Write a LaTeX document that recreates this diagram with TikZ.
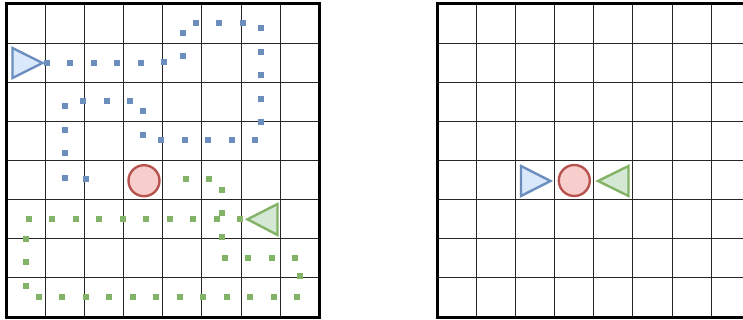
\documentclass[tikz,border=0pt]{standalone}
\begin{document}
\begin{tikzpicture}[x=1pt,y=-1pt,
  gridline/.style={draw=black!85,line width=0.8pt},
  border/.style={draw=black,line width=3pt},
  bluetri/.style={draw=blueS,fill=blueF,line width=2.4pt,line join=miter},
  greentri/.style={draw=greenS,fill=greenF,line width=2.4pt,line join=miter},
  goal/.style={circle,draw=redS,fill=redF,line width=2.4pt,minimum size=31pt,inner sep=0pt},
]
\definecolor{blueS}{HTML}{6C8EBF}
\definecolor{blueF}{HTML}{DAE8FC}
\definecolor{greenS}{HTML}{82B366}
\definecolor{greenF}{HTML}{D5E8D4}
\definecolor{redS}{HTML}{B85450}
\definecolor{redF}{HTML}{F8CECC}
\useasboundingbox (0,0) rectangle (743,320);
\fill[white] (0,0) rectangle (743,320);
\def\cs{39.15}
% grids
\foreach \ox in {6,437}{
  \foreach \i in {1,...,7}{
    \draw[gridline] (\ox+\i*\cs,3.8) -- (\ox+\i*\cs,3.8+8*\cs);
    \draw[gridline] (\ox,3.8+\i*\cs) -- (\ox+8*\cs,3.8+\i*\cs);
  }
  \draw[border] (\ox,3.8) rectangle (\ox+8*\cs,3.8+8*\cs);
}
% blue path
\foreach \x/\y in {182.7/32.7,196/22.7,219.3/22.7,243/22.7,261/28,
  261/51.7,261/75,261/98.7,261/122,
  47/62.7,70.3/62.7,94/62.7,117.3/62.7,141/62.7,164.3/62,182.7/56.3,
  65.3/106.3,83.3/100.7,106.7/100.7,130.3/100.7,143.3/111,
  65.3/129.7,65.3/153.3,
  143.3/134.7,161.3/140,185/140,208.3/140,232/140,255.3/140,
  64.5/178.5,86/179}
  \fill[blueS] (\x-3,\y-3) rectangle (\x+3,\y+3);
% green path
\foreach \x/\y in {185.7/179,209/179,221.7/190,
  29/218.7,52.3/218.7,76/218.7,99.3/218.7,123/218.7,146.3/218.7,170/218.7,193.3/218.7,216.7/219.3,240.3/219.3,
  221.7/213.3,221.7/237,
  26/239,26/262.3,26/286,
  224.7/257.7,248/257.7,271.7/257.7,295/257.7,300/276.3,
  38.7/296.7,62/296.7,85.7/296.7,109/296.7,132.7/296.7,156/296.7,179.7/296.7,203/296.7,226.7/296.7,250/296.7,273.7/296.7,297/296.7}
  \fill[greenS] (\x-3,\y-3) rectangle (\x+3,\y+3);
% left grid agents
\draw[bluetri] (12.5,48) -- (42.5,63) -- (12.5,78) -- cycle;
\draw[greentri] (247.5,219.3) -- (277.5,204) -- (277.5,235) -- cycle;
\node[goal] (goalL) at (144,180.7) {};
% right grid agents
\draw[bluetri] (521,166) -- (550.5,181) -- (521,196) -- cycle;
\node[goal] (goalR) at (574.3,180.5) {};
\draw[greentri] (598,181) -- (628.5,166) -- (628.5,196) -- cycle;
\end{tikzpicture}
\end{document}
